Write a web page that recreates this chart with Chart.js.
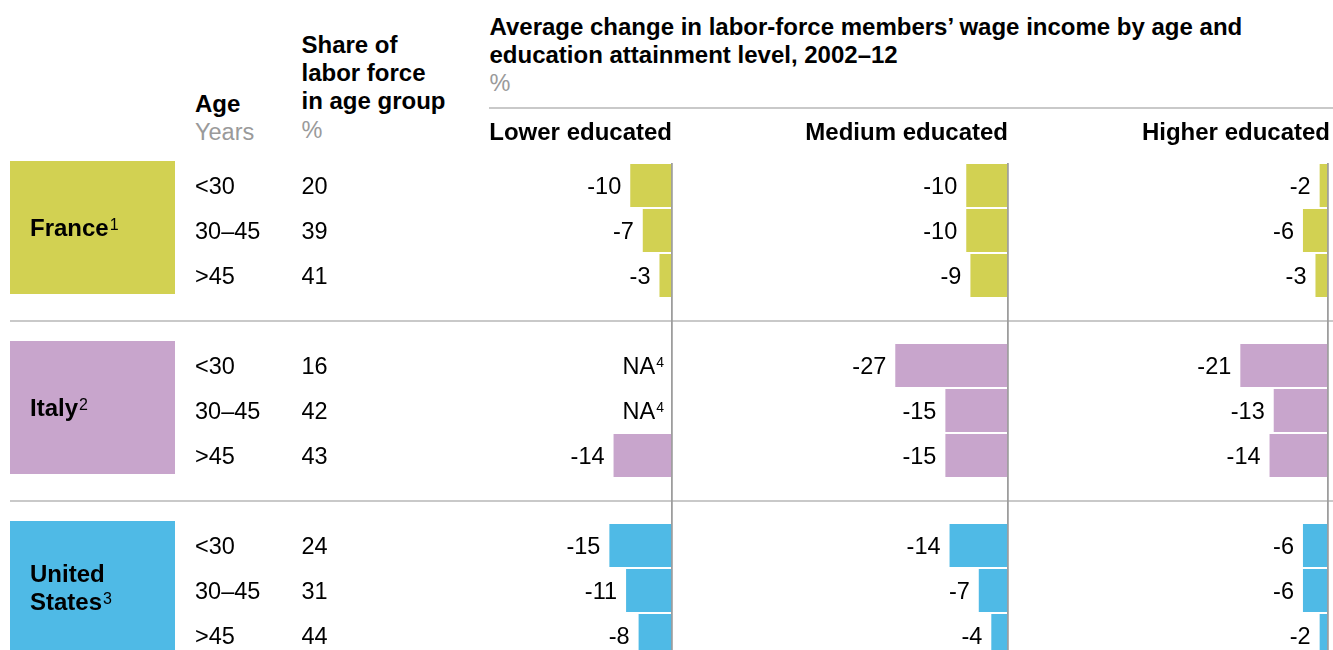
<!DOCTYPE html>
<html>
<head>
<meta charset="utf-8">
<script src="https://cdn.jsdelivr.net/npm/chart.js@4.4.0/dist/chart.umd.min.js"></script>
<style>
  html, body { margin:0; padding:0; background:#fff; overflow:hidden; width:1333px; height:650px; }
  body { position:relative; font-family:"Liberation Sans", Arial, Helvetica, sans-serif; }
  canvas { position:absolute; left:0; top:0; }
  .t { position:absolute; white-space:nowrap; font-size:24px; line-height:28.3px; color:#000; }
  .b { font-weight:bold; }
  .g { color:#9a9a9a; font-weight:normal; font-size:23.5px; }
  #rule { position:absolute; left:489px; top:106.5px; width:844px; height:2px; background:#c9c9c9; }
</style>
</head>
<body>
<div class="t b" style="left:489.5px; top:12.6px;">Average change in labor-force members’ wage income by age and<br>education attainment level, 2002–12<br><span class="g">%</span></div>
<div class="t b" style="left:301.5px; top:30.8px;">Share of<br>labor force<br>in age group<br><span class="g">%</span></div>
<div class="t b" style="left:195px; top:89.5px; line-height:28.5px;">Age<br><span class="g">Years</span></div>
<div id="rule"></div>
<canvas id="c0" width="1333" height="658"></canvas>
<canvas id="c1" width="1333" height="658"></canvas>
<canvas id="c2" width="1333" height="658"></canvas>
<script>
// ---------- data ----------
const countries = ['France', 'Italy', 'United States'];
const countryNotes = ['1', '2', '3'];
const ageGroups = ['<30', '30–45', '>45'];
const shareFrance = [20, 39, 41];
const shareItaly = [16, 42, 43];
const shareUS = [24, 31, 44];
const panelTitles = ['Lower educated', 'Medium educated', 'Higher educated'];
const lowerFrance = [-10, -7, -3];
const lowerItaly = [null, null, -14];   // NA
const lowerUS = [-15, -11, -8];
const mediumFrance = [-10, -10, -9];
const mediumItaly = [-27, -15, -15];
const mediumUS = [-14, -7, -4];
const higherFrance = [-2, -6, -3];
const higherItaly = [-21, -13, -14];
const higherUS = [-6, -6, -2];
const naLabel = 'NA';
const naNote = '4';

// ---------- styling / layout ----------
const countryColors = ['#d2d152', '#c8a5cc', '#4fbae6'];
const W = 1333, H = 658;
const panelZero = [672, 1008, 1328];
const panelSpan = 167;
const FONT = '"Liberation Sans", Arial, Helvetica, sans-serif';
const REG = '23.5px ' + FONT;
const BOLD = 'bold 24px ' + FONT;

// build row structure (spacer rows between country groups)
const shares = [shareFrance, shareItaly, shareUS];
const rowLabels = [], rowCountry = [], rowAge = [];
countries.forEach((c, g) => {
  if (g > 0) { rowLabels.push(''); rowCountry.push(-1); rowAge.push(-1); }
  ageGroups.forEach((a, k) => { rowLabels.push(c + ' ' + a); rowCountry.push(g); rowAge.push(k); });
});
function panelRows(groups) {
  const out = [];
  groups.forEach((arr, g) => { if (g > 0) out.push(null); arr.forEach(v => out.push(v)); });
  return out;
}
const panelData = [
  panelRows([lowerFrance, lowerItaly, lowerUS]),
  panelRows([mediumFrance, mediumItaly, mediumUS]),
  panelRows([higherFrance, higherItaly, higherUS])
];
const rowColors = rowCountry.map(g => g < 0 ? 'rgba(0,0,0,0)' : countryColors[g]);

// ---------- plugins ----------
const valueLabels = {
  id: 'valueLabels',
  afterDatasetsDraw(chart) {
    const ctx = chart.ctx;
    const xs = chart.scales.x, ys = chart.scales.y;
    const data = chart.data.datasets[0].data;
    const zero = xs.getPixelForValue(0);
    ctx.save();
    ctx.fillStyle = '#000';
    ctx.textAlign = 'right';
    ctx.textBaseline = 'alphabetic';
    data.forEach((v, i) => {
      if (rowCountry[i] < 0) return;
      const yc = ys.getPixelForValue(i);
      const base = yc + 8.4;
      if (v === null) {
        ctx.font = '14px ' + FONT;
        const sw = ctx.measureText(naNote).width;
        ctx.fillText(naNote, zero - 8, base - 7);
        ctx.font = REG;
        ctx.fillText(naLabel, zero - 8 - sw - 1, base);
      } else {
        ctx.font = REG;
        const end = Math.min(xs.getPixelForValue(v), zero);
        ctx.fillText(String(v), end - 9, base);
      }
    });
    ctx.restore();
  }
};

const leftTable = {
  id: 'leftTable',
  beforeDraw(chart) {
    const ctx = chart.ctx;
    const ys = chart.scales.y;
    const P = ys.getPixelForValue(1) - ys.getPixelForValue(0);
    ctx.save();
    // separators at spacer rows
    ctx.strokeStyle = '#c9c9c9';
    ctx.lineWidth = 2;
    rowCountry.forEach((g, i) => {
      if (g >= 0) return;
      const y = Math.round(ys.getPixelForValue(i));
      ctx.beginPath(); ctx.moveTo(10, y); ctx.lineTo(W, y); ctx.stroke();
    });
    countries.forEach((name, g) => {
      const idx = rowCountry.map((c, i) => c === g ? i : -1).filter(i => i >= 0);
      const top = ys.getPixelForValue(idx[0]) - P / 2 - 2;
      const bottom = ys.getPixelForValue(idx[idx.length - 1]) + P / 2 - 4;
      ctx.fillStyle = countryColors[g];
      ctx.fillRect(10, top, 165, bottom - top);
      // name
      const lines = name.split(' ');
      const lh = 28.7;
      const mid = (top + bottom) / 2;
      ctx.fillStyle = '#000';
      ctx.textAlign = 'left';
      ctx.textBaseline = 'alphabetic';
      let lastX = 30, lastBase = 0;
      lines.forEach((ln, j) => {
        const base = mid - (lines.length - 1) * lh / 2 + j * lh + 8.6;
        ctx.font = BOLD;
        ctx.fillText(ln, 30, base);
        lastX = 30 + ctx.measureText(ln).width; lastBase = base;
      });
      ctx.font = '16px ' + FONT;
      ctx.fillText(countryNotes[g], lastX + 1, lastBase - 6);
      // age and share
      idx.forEach(i => {
        const base = ys.getPixelForValue(i) + 8.4;
        ctx.font = REG;
        ctx.fillText(ageGroups[rowAge[i]], 195, base);
        ctx.fillText(String(shares[g][rowAge[i]]), 301.5, base);
      });
    });
    ctx.restore();
  }
};

// ---------- charts ----------
function makeChart(p, extra) {
  return new Chart(document.getElementById('c' + p), {
    type: 'bar',
    data: {
      labels: rowLabels,
      datasets: [{
        label: panelTitles[p],
        data: panelData[p],
        backgroundColor: rowColors,
        borderWidth: 0,
        barPercentage: 0.955,
        categoryPercentage: 1
      }]
    },
    options: {
      indexAxis: 'y',
      responsive: false,
      animation: false,
      devicePixelRatio: 1,
      events: [],
      layout: { padding: { left: panelZero[p] - panelSpan, right: W - panelZero[p], top: 163, bottom: 0 } },
      plugins: { legend: { display: false }, tooltip: { enabled: false } },
      scales: {
        y: { display: false, offset: true },
        x: {
          min: -40, max: 0,
          ticks: { display: false, stepSize: 10 },
          grid: {
            drawTicks: false,
            lineWidth: 1.8,
            color: c => (c.tick && c.tick.value === 0) ? '#9d9d9d' : 'rgba(0,0,0,0)'
          },
          border: { display: false }
        }
      }
    },
    plugins: extra.concat([valueLabels])
  });
}
const charts = [makeChart(0, [leftTable]), makeChart(1, []), makeChart(2, [])];

// panel headers, right-aligned to each panel's zero line
charts.forEach((ch, p) => {
  const zero = ch.scales.x.getPixelForValue(0);
  const d = document.createElement('div');
  d.className = 't b';
  d.textContent = panelTitles[p];
  d.style.top = '117.6px';
  d.style.right = (W - zero - (p === 2 ? 2 : 0)) + 'px';
  document.body.appendChild(d);
});
</script>
</body>
</html>
